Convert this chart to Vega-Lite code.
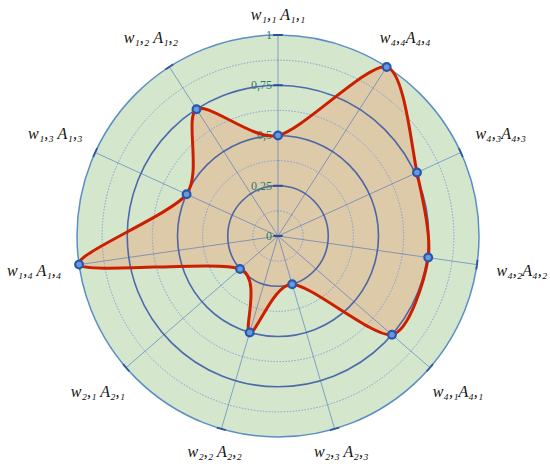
{
  "$schema": "https://vega.github.io/schema/vega-lite/v6.json",
  "width": 550,
  "height": 464,
  "autosize": {"type": "none"},
  "padding": 0,
  "background": "#ffffff",
  "config": {"view": {"stroke": null}},
  "datasets": {
    "rings": [
      {"r": 0.125, "kind": "minor"},
      {"r": 0.375, "kind": "minor"},
      {"r": 0.625, "kind": "minor"},
      {"r": 0.875, "kind": "minor"},
      {"r": 0.25, "kind": "major"},
      {"r": 0.5, "kind": "major"},
      {"r": 0.75, "kind": "major"}
    ],
    "ticks": [
      {"v": 0, "lab": "0"},
      {"v": 0.25, "lab": "0,25"},
      {"v": 0.5, "lab": "0,5"},
      {"v": 0.75, "lab": "0,75"},
      {"v": 1, "lab": "1"}
    ]
  },
  "data": {
    "values": [
      {"i": 0, "lab": "w₁,₁ A₁,₁", "v": 0.5},
      {"i": 1, "lab": "w₄,₄A₄,₄", "v": 1.0},
      {"i": 2, "lab": "w₄,₃A₄,₃", "v": 0.76},
      {"i": 3, "lab": "w₄,₂A₄,₂", "v": 0.755},
      {"i": 4, "lab": "w₄,₁A₄,₁", "v": 0.75},
      {"i": 5, "lab": "w₂,₃ A₂,₃", "v": 0.25},
      {"i": 6, "lab": "w₂,₂ A₂,₂", "v": 0.5},
      {"i": 7, "lab": "w₂,₁ A₂,₁", "v": 0.25},
      {"i": 8, "lab": "w₁,₄ A₁,₄", "v": 1.0},
      {"i": 9, "lab": "w₁,₃ A₁,₃", "v": 0.5},
      {"i": 10, "lab": "w₁,₂ A₁,₂", "v": 0.75}
    ]
  },
  "transform": [
    {"calculate": "datum.i*2*PI/11", "as": "a"},
    {"calculate": "datum.i*360/11", "as": "deg"},
    {"calculate": "datum.v*sin(datum.a)", "as": "x"},
    {"calculate": "datum.v*cos(datum.a)", "as": "y"},
    {"calculate": "sin(datum.a)", "as": "sx"},
    {"calculate": "cos(datum.a)", "as": "sy"},
    {"calculate": "0", "as": "z"},
    {"calculate": "1.10+0.13*abs(sin(datum.a))-0.02*max(0,-cos(datum.a))", "as": "lr"},
    {"calculate": "datum.lr*sin(datum.a)", "as": "lx"},
    {"calculate": "datum.lr*cos(datum.a)", "as": "ly"}
  ],
  "layer": [
    {
      "data": {"values": [{"r": 1}]},
      "transform": [{"calculate": "0", "as": "z"}],
      "mark": {"type": "arc", "fill": "#d4e7cd", "stroke": "#5b8ec6", "strokeWidth": 1.5},
      "encoding": {
        "x": {"field": "z", "type": "quantitative", "scale": {"domain": [-1.3831, 1.3532], "nice": false, "zero": false}, "axis": null},
        "y": {"field": "z", "type": "quantitative", "scale": {"domain": [-1.1343, 1.1741], "nice": false, "zero": false}, "axis": null},
        "radius": {"field": "r", "type": "quantitative", "stack": null, "scale": {"type": "linear", "domain": [0, 1], "range": [0, 201], "zero": true}, "legend": null}
      }
    },
    {
      "mark": {"type": "line", "interpolate": "cardinal-closed", "tension": 0.22, "fill": "#ddcaa9", "strokeWidth": 0},
      "encoding": {
        "x": {"field": "x", "type": "quantitative", "scale": {"domain": [-1.3831, 1.3532], "nice": false, "zero": false}, "axis": null},
        "y": {"field": "y", "type": "quantitative", "scale": {"domain": [-1.1343, 1.1741], "nice": false, "zero": false}, "axis": null},
        "order": {"field": "i", "type": "quantitative"}
      }
    },
    {
      "data": {"name": "rings"},
      "transform": [{"filter": "datum.kind == 'minor'"}, {"calculate": "0", "as": "z"}],
      "mark": {"type": "arc", "fillOpacity": 0, "stroke": "#7f9fd6", "strokeWidth": 1, "strokeDash": [1.5, 1.5]},
      "encoding": {
        "x": {"field": "z", "type": "quantitative", "scale": {"domain": [-1.3831, 1.3532], "nice": false, "zero": false}, "axis": null},
        "y": {"field": "z", "type": "quantitative", "scale": {"domain": [-1.1343, 1.1741], "nice": false, "zero": false}, "axis": null},
        "radius": {"field": "r", "type": "quantitative", "stack": null, "scale": {"type": "linear", "domain": [0, 1], "range": [0, 201], "zero": true}, "legend": null}
      }
    },
    {
      "data": {"name": "rings"},
      "transform": [{"filter": "datum.kind == 'major'"}, {"calculate": "0", "as": "z"}],
      "mark": {"type": "arc", "fillOpacity": 0, "stroke": "#3554a6", "strokeWidth": 1.6, "strokeOpacity": 0.85},
      "encoding": {
        "x": {"field": "z", "type": "quantitative", "scale": {"domain": [-1.3831, 1.3532], "nice": false, "zero": false}, "axis": null},
        "y": {"field": "z", "type": "quantitative", "scale": {"domain": [-1.1343, 1.1741], "nice": false, "zero": false}, "axis": null},
        "radius": {"field": "r", "type": "quantitative", "stack": null, "scale": {"type": "linear", "domain": [0, 1], "range": [0, 201], "zero": true}, "legend": null}
      }
    },
    {
      "mark": {"type": "rule", "stroke": "#3a66c0", "strokeOpacity": 0.55, "strokeWidth": 1},
      "encoding": {
        "x": {"field": "z", "type": "quantitative", "scale": {"domain": [-1.3831, 1.3532], "nice": false, "zero": false}, "axis": null},
        "y": {"field": "z", "type": "quantitative", "scale": {"domain": [-1.1343, 1.1741], "nice": false, "zero": false}, "axis": null},
        "x2": {"field": "sx"},
        "y2": {"field": "sy"}
      }
    },
    {
      "mark": {"type": "point", "shape": "M -1 0 L 1 0", "filled": false, "stroke": "#2f56a3", "strokeWidth": 1.8, "size": 90, "opacity": 1},
      "encoding": {
        "x": {"field": "sx", "type": "quantitative", "scale": {"domain": [-1.3831, 1.3532], "nice": false, "zero": false}, "axis": null},
        "y": {"field": "sy", "type": "quantitative", "scale": {"domain": [-1.1343, 1.1741], "nice": false, "zero": false}, "axis": null},
        "angle": {"field": "deg", "type": "quantitative", "scale": null}
      }
    },
    {
      "data": {"name": "ticks"},
      "transform": [{"calculate": "0", "as": "z"}],
      "mark": {"type": "point", "shape": "M -1 0 L 1 0", "filled": false, "stroke": "#2f4f9a", "strokeWidth": 2, "size": 90, "opacity": 1},
      "encoding": {
        "x": {"field": "z", "type": "quantitative", "scale": {"domain": [-1.3831, 1.3532], "nice": false, "zero": false}, "axis": null},
        "y": {"field": "v", "type": "quantitative", "scale": {"domain": [-1.1343, 1.1741], "nice": false, "zero": false}, "axis": null}
      }
    },
    {
      "data": {"name": "ticks"},
      "transform": [{"calculate": "0", "as": "z"}],
      "mark": {"type": "text", "align": "right", "baseline": "middle", "dx": -6, "font": "Liberation Serif", "fontSize": 12, "fill": "#2e7c68"},
      "encoding": {
        "x": {"field": "z", "type": "quantitative", "scale": {"domain": [-1.3831, 1.3532], "nice": false, "zero": false}, "axis": null},
        "y": {"field": "v", "type": "quantitative", "scale": {"domain": [-1.1343, 1.1741], "nice": false, "zero": false}, "axis": null},
        "text": {"field": "lab", "type": "nominal"}
      }
    },
    {
      "mark": {"type": "line", "interpolate": "cardinal-closed", "tension": 0.22, "stroke": "#cc1f00", "strokeWidth": 3},
      "encoding": {
        "x": {"field": "x", "type": "quantitative", "scale": {"domain": [-1.3831, 1.3532], "nice": false, "zero": false}, "axis": null},
        "y": {"field": "y", "type": "quantitative", "scale": {"domain": [-1.1343, 1.1741], "nice": false, "zero": false}, "axis": null},
        "order": {"field": "i", "type": "quantitative"}
      }
    },
    {
      "mark": {"type": "point", "shape": "circle", "filled": true, "fill": "#6a98db", "stroke": "#2857ab", "strokeWidth": 2.2, "size": 60, "opacity": 1},
      "encoding": {
        "x": {"field": "x", "type": "quantitative", "scale": {"domain": [-1.3831, 1.3532], "nice": false, "zero": false}, "axis": null},
        "y": {"field": "y", "type": "quantitative", "scale": {"domain": [-1.1343, 1.1741], "nice": false, "zero": false}, "axis": null}
      }
    },
    {
      "mark": {"type": "text", "align": "center", "baseline": "middle", "font": "Liberation Serif", "fontStyle": "italic", "fontSize": 16, "fill": "#111111"},
      "encoding": {
        "x": {"field": "lx", "type": "quantitative", "scale": {"domain": [-1.3831, 1.3532], "nice": false, "zero": false}, "axis": null},
        "y": {"field": "ly", "type": "quantitative", "scale": {"domain": [-1.1343, 1.1741], "nice": false, "zero": false}, "axis": null},
        "text": {"field": "lab", "type": "nominal"}
      }
    }
  ]
}
